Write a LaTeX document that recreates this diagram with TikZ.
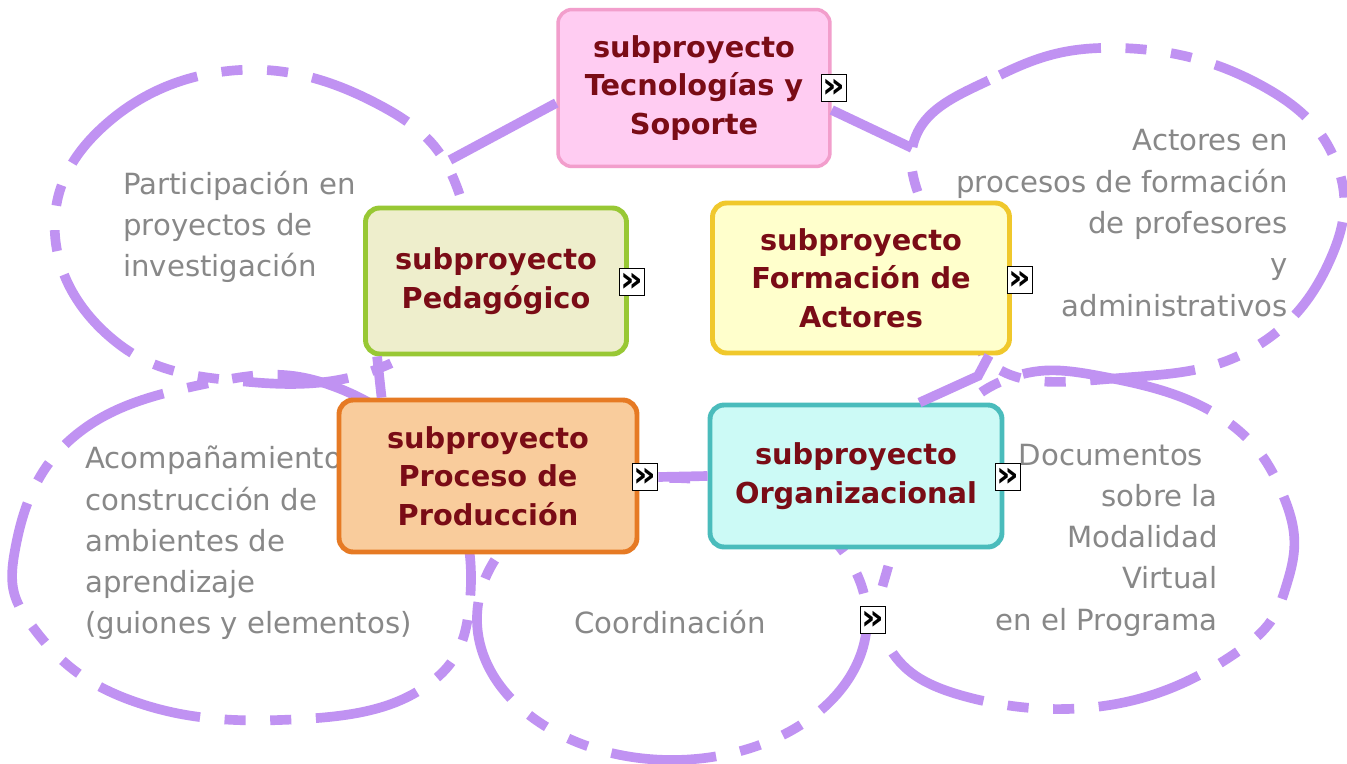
\documentclass[tikz,border=0pt]{standalone}
\usepackage{fontspec}
\setmainfont{DejaVu Sans}
\usetikzlibrary{shapes}
\definecolor{lav}{RGB}{192,146,242}
\definecolor{boxtext}{RGB}{122,12,22}
\definecolor{greytext}{RGB}{136,136,136}
\definecolor{pinkfill}{RGB}{255,204,242}
\definecolor{pinkline}{RGB}{242,158,204}
\definecolor{olivefill}{RGB}{238,238,204}
\definecolor{greenline}{RGB}{152,200,52}
\definecolor{yellowfill}{RGB}{255,255,204}
\definecolor{yellowline}{RGB}{240,200,44}
\definecolor{orangefill}{RGB}{249,204,156}
\definecolor{orangeline}{RGB}{230,122,36}
\definecolor{cyanfill}{RGB}{204,250,246}
\definecolor{tealline}{RGB}{74,188,188}
\newcommand{\more}[1]{node[moreicon](#1) {»}}

\begin{document}
\begin{tikzpicture}[
      x=0.02cm, y=-0.02cm,
      boundary/.style={draw=lav, line width=5.5pt, dash pattern=on 60pt off 14pt on 12pt off 14pt on 12pt off 14pt},
      link/.style={draw=lav, line width=5.5pt},
      note/.style={text=greytext, font=\fontsize{16.6}{23.5}\selectfont, inner sep=0pt},
      subbox/.style={rectangle, rounded corners=8pt, line width=2.8pt, text=boxtext, align=center, font=\bfseries\fontsize{16.4}{22}\selectfont},
      moreicon/.style={draw=black, fill=white, line width=1pt, inner sep=0pt, minimum width=0.5cm, minimum height=0.54cm, font=\bfseries\fontsize{20}{20}\selectfont}
      ]
      \fill[white] (0,0) rectangle (1347,764);
      \useasboundingbox (0,0) rectangle (1347,764);
      % boundaries
      \draw[boundary] plot[smooth cycle, tension=0.7] coordinates {(55,235) (105,125) (240,70) (385,108) (458,190) (455,300) (380,368) (250,382) (120,345)};
      \draw[boundary] plot[smooth cycle, tension=0.7] coordinates {(912,150) (1000,75) (1120,48) (1255,82) (1335,160) (1330,260) (1250,350) (1120,378) (1000,370) (965,290)};
      \draw[boundary] plot[smooth cycle, tension=0.7] coordinates {(15,550) (70,440) (200,385) (330,385) (440,470) (470,600) (420,690) (280,720) (130,700) (35,630)};
      \draw[boundary] (672,619) ellipse [x radius=195, y radius=141];
      \draw[boundary] plot[smooth cycle, tension=0.7] coordinates {(1010,378) (1110,378) (1225,420) (1285,500) (1288,580) (1240,650) (1110,705) (960,695) (885,640) (890,560) (940,440)};
      \coordinate (aJ) at (450,160);
      \coordinate (bJ) at (912,148);
      \coordinate (eJ) at (978,376);

      % notes
      \node[note, anchor=west, align=left] (part) at (123,227) {Participación en\\proyectos de\\investigación};
      \node[note, anchor=east, align=right] (act) at (1288,223) {Actores en\\procesos de formación\\de profesores\\y\\administrativos};
      \node[note, anchor=west, align=left] (acomp) at (85,543) {Acompañamiento\\construcción de\\ambientes de\\aprendizaje\\(guiones y elementos)};
      \node[note] (coord) at (670,622) {Coordinación};
      \node[note, anchor=east, align=right] (docs) at (1218,540) {Documentos\hspace*{0.5em}\\sobre la\\Modalidad\hspace*{0.4em}\\Virtual\\en el Programa};

      % subprojects
      \node[subbox, draw=pinkline, fill=pinkfill, line width=2pt, minimum width=5.44cm, minimum height=3.14cm] (tec) at (694,88) {subproyecto\\Tecnologías y\\Soporte};
      \node[subbox, draw=greenline, fill=olivefill, minimum width=5.22cm, minimum height=2.92cm] (ped) at (496,281) {subproyecto\\Pedagógico};
      \node[subbox, draw=yellowline, fill=yellowfill, minimum width=5.94cm, minimum height=3.0cm] (form) at (861,278) {subproyecto\\Formación de\\Actores};
      \node[subbox, draw=orangeline, fill=orangefill, minimum width=5.96cm, minimum height=3.04cm] (proc) at (488,476) {subproyecto\\Proceso de\\Producción};
      \node[subbox, draw=tealline, fill=cyanfill, minimum width=5.84cm, minimum height=2.84cm] (org) at (856,476) {subproyecto\\Organizacional};

      \path (834,88) \more{tecmore};
      \path (632,282) \more{pedmore};
      \path (1020,280) \more{formmore};
      \path (645,477) \more{procmore};
      \path (1008,477) \more{orgmore};
      \path (873,620) \more{coordmore};

      % links
      \draw[link] ([yshift=-0.3cm]tec.west) -- (aJ);
      \draw[link] ([yshift=-0.44cm]tec.east) -- (bJ);
      \draw[link] ([xshift=0.28cm]ped.south west) -- ([xshift=0.9cm]proc.north west);
      \draw[link] ([xshift=-0.46cm]form.south east) -- (eJ) -- ([xshift=4.24cm]org.north west);
      \draw[link] (procmore.east) -- (org.west);
    \end{tikzpicture}
\end{document}
